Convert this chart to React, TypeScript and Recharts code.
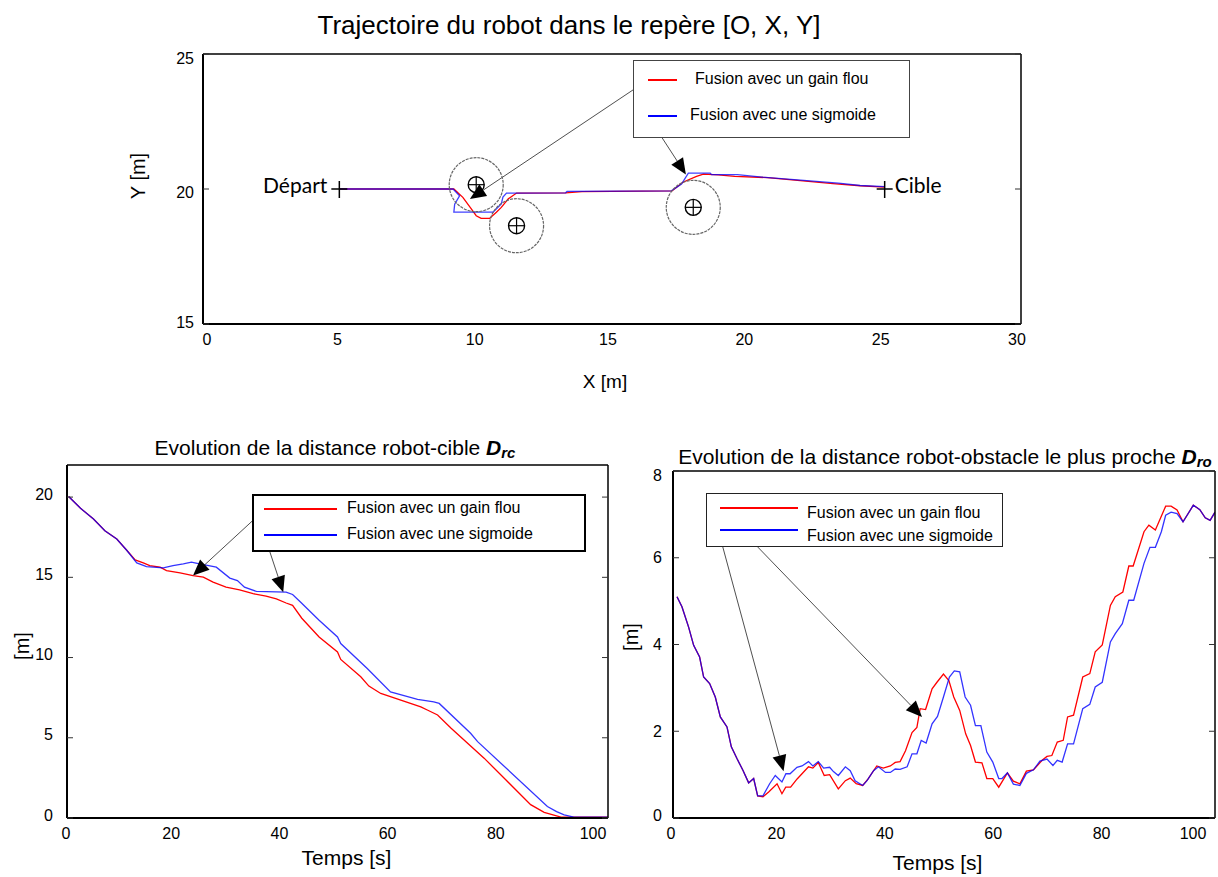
import { LineChart, Line, XAxis, YAxis, ReferenceLine, ReferenceDot, Legend } from "recharts";

type Pt = { x: number; y: number };
type TPt = { t: number; d: number };

const RED = "#ff0000";
const BLUE = "#0000ff";
const seriesNames = ["Fusion avec un gain flou", "Fusion avec une sigmoide"];

// --- trajectoire dans le repère [O, X, Y]
const trajXTicks = [0, 5, 10, 15, 20, 25, 30];
const trajYTicks = [15, 20, 25];
const trajRed: Pt[] = [
  { x: 5, y: 20 }, { x: 9.2, y: 20 }, { x: 9.53, y: 19.69 }, { x: 9.84, y: 19.26 },
  { x: 10.02, y: 19.01 }, { x: 10.2, y: 18.91 }, { x: 10.51, y: 18.91 }, { x: 10.76, y: 19.14 },
  { x: 10.94, y: 19.32 }, { x: 11.19, y: 19.63 }, { x: 11.5, y: 19.85 }, { x: 13.3, y: 19.86 },
  { x: 13.9, y: 19.9 }, { x: 17.2, y: 19.93 }, { x: 17.6, y: 20.25 }, { x: 18.1, y: 20.47 },
  { x: 18.35, y: 20.55 }, { x: 18.9, y: 20.52 }, { x: 19.5, y: 20.47 }, { x: 20.7, y: 20.42 },
  { x: 21.9, y: 20.31 }, { x: 23.1, y: 20.2 }, { x: 24.1, y: 20.12 }, { x: 25, y: 20.07 },
];
const trajBlue: Pt[] = [
  { x: 5, y: 20 }, { x: 9.17, y: 20 }, { x: 9.41, y: 19.75 }, { x: 9.23, y: 19.44 },
  { x: 9.2, y: 19.14 }, { x: 10.64, y: 19.14 }, { x: 10.94, y: 19.45 }, { x: 11.0, y: 19.7 },
  { x: 11.13, y: 19.85 }, { x: 13.3, y: 19.86 }, { x: 13.35, y: 19.91 }, { x: 17.18, y: 19.93 },
  { x: 17.55, y: 20.18 }, { x: 17.8, y: 20.59 }, { x: 18.6, y: 20.59 }, { x: 18.65, y: 20.53 },
  { x: 19.6, y: 20.53 }, { x: 20.5, y: 20.44 }, { x: 21.8, y: 20.34 }, { x: 23.3, y: 20.22 },
  { x: 24.1, y: 20.13 }, { x: 25, y: 20.09 },
];
const obstacles: Pt[] = [
  { x: 10.02, y: 20.16 },
  { x: 11.5, y: 18.64 },
  { x: 17.98, y: 19.32 },
];
const depart: Pt = { x: 5, y: 20 };
const cible: Pt = { x: 25, y: 20 };
const trajArrows = [
  { from: { x: 16.32, y: 24.04 }, to: { x: 9.79, y: 19.63 } },
  { from: { x: 16.32, y: 22.7 }, to: { x: 17.71, y: 20.54 } },
];

// --- distance robot-cible
const timeTicks = [0, 20, 40, 60, 80, 100];
const drcYTicks = [0, 5, 10, 15, 20];
const drcRed: TPt[] = [
  { t: 0.3, d: 20.04 }, { t: 2.5, d: 19.3 }, { t: 4.9, d: 18.63 }, { t: 7, d: 17.9 },
  { t: 9.2, d: 17.39 }, { t: 11, d: 16.7 }, { t: 12.6, d: 16.09 }, { t: 14.1, d: 15.9 },
  { t: 15.3, d: 15.73 }, { t: 17.2, d: 15.63 }, { t: 18.4, d: 15.42 }, { t: 20.9, d: 15.28 },
  { t: 23.3, d: 15.11 }, { t: 25.2, d: 15.01 }, { t: 27, d: 14.7 }, { t: 29.4, d: 14.39 },
  { t: 31.9, d: 14.22 }, { t: 34.4, d: 13.98 }, { t: 36.8, d: 13.83 }, { t: 38.7, d: 13.66 },
  { t: 40.5, d: 13.4 }, { t: 41.7, d: 13.25 }, { t: 43.4, d: 12.45 }, { t: 46.6, d: 11.28 },
  { t: 50, d: 10.35 }, { t: 50.6, d: 9.88 }, { t: 54.3, d: 8.8 }, { t: 55.8, d: 8.22 },
  { t: 58, d: 7.76 }, { t: 65.4, d: 6.93 }, { t: 66.6, d: 6.73 }, { t: 68.5, d: 6.42 },
  { t: 71, d: 5.59 }, { t: 77.1, d: 3.73 }, { t: 85.7, d: 0.83 }, { t: 88.2, d: 0.35 },
  { t: 91.3, d: 0.06 }, { t: 100, d: 0.06 },
];
const drcBlue: TPt[] = [
  { t: 0.3, d: 20.04 }, { t: 2.5, d: 19.3 }, { t: 4.9, d: 18.63 }, { t: 7, d: 17.9 },
  { t: 9.2, d: 17.39 }, { t: 11, d: 16.7 }, { t: 12.9, d: 15.9 }, { t: 14.7, d: 15.67 },
  { t: 17.8, d: 15.59 }, { t: 19.6, d: 15.73 }, { t: 21.5, d: 15.84 }, { t: 23, d: 15.94 },
  { t: 24.5, d: 15.84 }, { t: 27.6, d: 15.63 }, { t: 30.1, d: 14.95 }, { t: 31.5, d: 14.8 },
  { t: 32.8, d: 14.39 }, { t: 35, d: 14.12 }, { t: 40.5, d: 14.08 }, { t: 41.7, d: 13.93 },
  { t: 43.2, d: 13.45 }, { t: 46.6, d: 12.32 }, { t: 50, d: 11.28 }, { t: 50.6, d: 10.87 },
  { t: 55.5, d: 9.32 }, { t: 59.8, d: 7.86 }, { t: 64.8, d: 7.39 }, { t: 67.8, d: 7.24 },
  { t: 68.8, d: 7.14 }, { t: 74.6, d: 5.28 }, { t: 75.9, d: 4.76 }, { t: 88.8, d: 0.72 },
  { t: 90.5, d: 0.4 }, { t: 91.9, d: 0.2 }, { t: 93.7, d: 0.06 }, { t: 100, d: 0.06 },
];
const drcArrows = [
  { from: { x: 36.5, y: 19.21 }, to: { x: 23.3, y: 15.11 } },
  { from: { x: 36.5, y: 17.6 }, to: { x: 39.97, y: 14.07 } },
];

// --- distance robot-obstacle le plus proche
const droYTicks = [0, 2, 4, 6, 8];
const droStart: TPt[] = [
  { t: 0.74, d: 5.1 }, { t: 1.65, d: 4.87 }, { t: 2.88, d: 4.4 }, { t: 3.81, d: 3.98 },
  { t: 4.91, d: 3.71 }, { t: 5.65, d: 3.25 }, { t: 6.76, d: 3.1 }, { t: 7.8, d: 2.79 },
  { t: 8.73, d: 2.33 }, { t: 9.96, d: 2.1 }, { t: 10.76, d: 1.64 }, { t: 11.8, d: 1.37 },
  { t: 12.9, d: 1.1 }, { t: 13.96, d: 0.81 }, { t: 14.88, d: 0.91 }, { t: 15.62, d: 0.51 },
];
const droEnd: TPt[] = [
  { t: 94.1, d: 6.83 }, { t: 96, d: 7.21 }, { t: 97.2, d: 7.11 }, { t: 98.2, d: 6.92 },
  { t: 99.1, d: 6.86 }, { t: 100, d: 7.05 },
];
const droRed: TPt[] = [
  ...droStart,
  { t: 16.6, d: 0.49 }, { t: 17.65, d: 0.6 }, { t: 19.2, d: 0.79 }, { t: 20.1, d: 0.56 },
  { t: 20.8, d: 0.71 }, { t: 21.7, d: 0.71 }, { t: 22.9, d: 0.9 }, { t: 23.8, d: 1.02 },
  { t: 25, d: 1.18 }, { t: 25.8, d: 1.15 }, { t: 26.8, d: 1.28 }, { t: 27.9, d: 0.98 },
  { t: 28.9, d: 1.0 }, { t: 30.5, d: 0.67 }, { t: 31.8, d: 0.86 }, { t: 32.7, d: 0.92 },
  { t: 33.8, d: 0.79 }, { t: 35, d: 0.75 }, { t: 36, d: 0.9 }, { t: 37.6, d: 1.2 },
  { t: 38.8, d: 1.15 }, { t: 40.1, d: 1.2 }, { t: 41, d: 1.28 }, { t: 41.9, d: 1.3 },
  { t: 42.9, d: 1.55 }, { t: 44.1, d: 1.97 }, { t: 45, d: 2.09 }, { t: 45.6, d: 2.52 },
  { t: 46.6, d: 2.5 }, { t: 47.8, d: 2.98 }, { t: 48.7, d: 3.13 }, { t: 49.9, d: 3.32 },
  { t: 50.9, d: 3.17 }, { t: 51.8, d: 2.79 }, { t: 52.9, d: 2.48 }, { t: 54, d: 1.94 },
  { t: 54.9, d: 1.67 }, { t: 55.8, d: 1.29 }, { t: 57, d: 1.27 }, { t: 57.9, d: 0.91 },
  { t: 59, d: 0.91 }, { t: 60.1, d: 0.71 }, { t: 61.7, d: 1.04 }, { t: 62.8, d: 0.85 },
  { t: 64, d: 0.79 }, { t: 65.2, d: 1.08 }, { t: 66.5, d: 1.11 }, { t: 68.1, d: 1.33 },
  { t: 69, d: 1.42 }, { t: 69.9, d: 1.44 }, { t: 70.9, d: 1.75 }, { t: 72, d: 1.79 },
  { t: 72.8, d: 2.33 }, { t: 73.9, d: 2.37 }, { t: 75.6, d: 3.25 }, { t: 76.9, d: 3.33 },
  { t: 77.9, d: 3.83 }, { t: 79.2, d: 3.99 }, { t: 80.7, d: 4.9 }, { t: 81.6, d: 5.1 },
  { t: 83, d: 5.21 }, { t: 84.1, d: 5.81 }, { t: 84.9, d: 5.81 }, { t: 86.9, d: 6.6 },
  { t: 87.8, d: 6.75 }, { t: 89, d: 6.64 }, { t: 90.9, d: 7.19 }, { t: 91.9, d: 7.19 },
  { t: 93, d: 7.1 },
  ...droEnd,
];
const droBlue: TPt[] = [
  ...droStart,
  { t: 16.6, d: 0.51 }, { t: 17.83, d: 0.79 }, { t: 18.87, d: 0.98 }, { t: 20.1, d: 0.83 },
  { t: 20.83, d: 1.02 }, { t: 21.6, d: 1.02 }, { t: 22.87, d: 1.17 }, { t: 23.8, d: 1.2 },
  { t: 25, d: 1.3 }, { t: 25.8, d: 1.2 }, { t: 26.8, d: 1.3 }, { t: 27.8, d: 1.15 },
  { t: 28.9, d: 1.17 }, { t: 29.6, d: 1.07 }, { t: 30.5, d: 0.98 }, { t: 31.8, d: 1.18 },
  { t: 32.7, d: 1.09 }, { t: 33.6, d: 0.86 }, { t: 35, d: 0.75 }, { t: 35.8, d: 0.86 },
  { t: 37, d: 1.09 }, { t: 37.9, d: 1.18 }, { t: 39.2, d: 1.05 }, { t: 40.1, d: 1.05 },
  { t: 41, d: 1.13 }, { t: 41.9, d: 1.12 }, { t: 43.2, d: 1.18 }, { t: 44.1, d: 1.48 },
  { t: 45, d: 1.48 }, { t: 45.8, d: 1.79 }, { t: 46.7, d: 1.73 }, { t: 47.8, d: 2.17 },
  { t: 48.8, d: 2.34 }, { t: 49.9, d: 2.79 }, { t: 51, d: 3.25 }, { t: 51.9, d: 3.39 },
  { t: 52.9, d: 3.37 }, { t: 53.9, d: 2.79 }, { t: 54.9, d: 2.6 }, { t: 55.8, d: 2.13 },
  { t: 56.8, d: 2.13 }, { t: 57.9, d: 1.52 }, { t: 59, d: 1.29 }, { t: 60.1, d: 0.91 },
  { t: 60.7, d: 0.91 }, { t: 61.7, d: 1.04 }, { t: 62.8, d: 0.78 }, { t: 64, d: 0.75 },
  { t: 65.2, d: 1.03 }, { t: 66.5, d: 1.11 }, { t: 67.7, d: 1.31 }, { t: 69, d: 1.36 },
  { t: 70.1, d: 1.21 }, { t: 70.9, d: 1.33 }, { t: 71.8, d: 1.29 }, { t: 72.8, d: 1.71 },
  { t: 73.9, d: 1.71 }, { t: 75.6, d: 2.52 }, { t: 76.9, d: 2.62 }, { t: 77.9, d: 3.02 },
  { t: 79.2, d: 3.13 }, { t: 80.7, d: 4.06 }, { t: 81.6, d: 4.25 }, { t: 82.9, d: 4.48 },
  { t: 84.1, d: 5.02 }, { t: 85, d: 5.02 }, { t: 86.9, d: 5.87 }, { t: 88, d: 6.24 },
  { t: 89, d: 6.24 }, { t: 90.1, d: 6.6 }, { t: 90.9, d: 6.98 }, { t: 91.9, d: 7.05 },
  { t: 93, d: 7.02 },
  ...droEnd,
];
const droArrows = [
  { from: { x: 8.73, y: 7.14 }, to: { x: 45.94, y: 2.33 } },
  { from: { x: 8.36, y: 6.63 }, to: { x: 20.4, y: 1.08 } },
];

// annotation arrow: thin line ending with a filled triangle
function Arrow(props: any) {
  const { x1, y1, x2, y2 } = props;
  const dx = x2 - x1;
  const dy = y2 - y1;
  const len = Math.hypot(dx, dy) || 1;
  const ux = dx / len;
  const uy = dy / len;
  const bx = x2 - ux * 16;
  const by = y2 - uy * 16;
  const pts = `${x2},${y2} ${bx - uy * 7},${by + ux * 7} ${bx + uy * 7},${by - ux * 7}`;
  return (
    <g>
      <line x1={x1} y1={y1} x2={bx} y2={by} stroke="#222" strokeWidth={0.8} />
      <polygon points={pts} fill="#000" />
    </g>
  );
}

function Obstacle(props: any) {
  const { cx, cy } = props;
  return (
    <g>
      <circle cx={cx} cy={cy} r={27} fill="none" stroke="#666" strokeWidth={1.2} strokeDasharray="3 1" />
      <circle cx={cx} cy={cy} r={8} fill="none" stroke="#000" strokeWidth={1.4} />
      <line x1={cx - 8} y1={cy} x2={cx + 8} y2={cy} stroke="#000" strokeWidth={1.2} />
      <line x1={cx} y1={cy - 8} x2={cx} y2={cy + 8} stroke="#000" strokeWidth={1.2} />
    </g>
  );
}

function Cross(props: any) {
  const { cx, cy, text, side } = props;
  return (
    <g>
      <line x1={cx - 8} y1={cy} x2={cx + 8} y2={cy} stroke="#000" strokeWidth={1.5} />
      <line x1={cx} y1={cy - 8} x2={cx} y2={cy + 9} stroke="#000" strokeWidth={1.5} />
      <text
        x={side === "left" ? cx - 12 : cx + 10}
        y={cy + 4}
        textAnchor={side === "left" ? "end" : "start"}
        fontFamily="Lato, 'Open Sans', sans-serif"
        fontSize={21}
        fill="#000"
      >
        {text}
      </text>
    </g>
  );
}

// tick labels, nudged a little like the original figure
function XTick(props: any) {
  const { x, y, payload, shifts, shift } = props;
  const dx = shifts && shifts[payload.value] !== undefined ? shifts[payload.value] : shift || 0;
  return (
    <text x={x + dx} y={y} dy="0.71em" textAnchor="middle" fontSize={16} fill="#000">
      {payload.value}
    </text>
  );
}

function YTick(props: any) {
  const { x, y, payload, shifts, shift } = props;
  const dy = shifts && shifts[payload.value] !== undefined ? shifts[payload.value] : shift || 0;
  return (
    <text x={x} y={y + dy} dy="0.355em" textAnchor="end" fontSize={16} fill="#000">
      {payload.value}
    </text>
  );
}

const noLabel = () => <g />;

type LegendRow = { color: string; lx1: number; lx2: number; ly: number; tx: number; ty: number };

function LegendBox({ w, h, border, rows }: { w: number; h: number; border: string; rows: LegendRow[] }) {
  return (
    <div
      style={{
        position: "relative",
        width: w,
        height: h,
        boxSizing: "border-box",
        border,
        background: "#fff",
      }}
    >
      {rows.map((r, i) => (
        <div key={i}>
          <div
            style={{
              position: "absolute",
              left: r.lx1,
              top: r.ly - 0.75,
              width: r.lx2 - r.lx1,
              height: 1.5,
              background: r.color,
            }}
          />
          <div
            style={{
              position: "absolute",
              left: r.tx,
              top: r.ty - 9.5,
              fontSize: 16,
              lineHeight: 1,
              whiteSpace: "nowrap",
              color: "#000",
            }}
          >
            {seriesNames[i]}
          </div>
        </div>
      ))}
    </div>
  );
}

function Caption({ x, y, size, children, rotate }: { x: number; y: number; size: number; children: any; rotate?: boolean }) {
  return (
    <div
      style={{
        position: "absolute",
        left: x,
        top: y,
        fontSize: size,
        lineHeight: 1,
        whiteSpace: "nowrap",
        transform: rotate ? "translate(-50%, -50%) rotate(-90deg)" : "translateX(-50%)",
      }}
    >
      {children}
    </div>
  );
}

const tickStroke = { stroke: "#333", strokeWidth: 1 };

// frame of the plot: four mirrored axes drawing inward ticks
function frameAxes(xDomain: number[], xTicks: number[], yDomain: number[], yTicks: number[]) {
  return [
    <XAxis key="xb" xAxisId="xb" type="number" orientation="bottom" mirror domain={xDomain} ticks={xTicks}
      interval={0} allowDataOverflow tick={noLabel} tickSize={6} tickLine={tickStroke}
      axisLine={{ stroke: "#000", strokeWidth: 2 }} />,
    <XAxis key="xt" xAxisId="xt" type="number" orientation="top" mirror domain={xDomain} ticks={xTicks}
      interval={0} allowDataOverflow tick={noLabel} tickSize={6} tickLine={tickStroke}
      axisLine={{ stroke: "#000", strokeWidth: 1.5 }} />,
    <YAxis key="yl" yAxisId="yl" type="number" orientation="left" mirror domain={yDomain} ticks={yTicks}
      interval={0} allowDataOverflow tick={noLabel} tickSize={6} tickLine={tickStroke}
      axisLine={{ stroke: "#000", strokeWidth: 2 }} />,
    <YAxis key="yr" yAxisId="yr" type="number" orientation="right" mirror domain={yDomain} ticks={yTicks}
      interval={0} allowDataOverflow tick={noLabel} tickSize={6} tickLine={tickStroke}
      axisLine={{ stroke: "#000", strokeWidth: 1.5 }} />,
  ];
}

export default function App() {
  return (
    <div
      style={{
        position: "absolute",
        left: 0,
        top: 0,
        width: 1218,
        height: 877,
        background: "#fff",
        fontFamily: "'Liberation Sans', Arial, sans-serif",
        color: "#000",
      }}
    >
      {/* trajectoire */}
      <div style={{ position: "absolute", left: 0, top: 0 }}>
        <LineChart width={1218} height={400} margin={{ top: 54, right: 197, bottom: 46, left: 163 }}>
          <XAxis xAxisId="b" dataKey="x" type="number" domain={[0, 30]} ticks={trajXTicks} interval={0}
            allowDataOverflow height={30} tickSize={0} tickMargin={10} tickLine={false} axisLine={false}
            tick={<XTick shift={-4} shifts={{ 0: 4, 5: -2, 10: -1 }} />} />
          <YAxis yAxisId="l" type="number" domain={[15, 25]} ticks={trajYTicks} interval={0}
            allowDataOverflow width={40} tickSize={0} tickMargin={9} tickLine={false} axisLine={false}
            tick={<YTick shifts={{ 25: 4, 20: 3, 15: -2 }} />} />
          {frameAxes([0, 30], trajXTicks, [15, 25], trajYTicks)}
          <Legend
            layout="vertical"
            align="center"
            verticalAlign="middle"
            wrapperStyle={{ left: 633, top: 60, width: 277, height: 78 }}
            content={() => (
              <LegendBox w={277} h={78} border="1.5px solid #444" rows={[
                { color: RED, lx1: 14, lx2: 43, ly: 19, tx: 61, ty: 19 },
                { color: BLUE, lx1: 14, lx2: 43, ly: 55, tx: 56, ty: 55 },
              ]} />
            )}
          />
          {obstacles.map((o, i) => (
            <ReferenceDot key={i} xAxisId="b" yAxisId="l" x={o.x} y={o.y} r={27} shape={<Obstacle />} />
          ))}
          <Line xAxisId="b" yAxisId="l" data={trajRed} dataKey="y" name={seriesNames[0]} type="linear"
            stroke={RED} strokeWidth={1.3} dot={false} isAnimationActive={false} />
          <Line xAxisId="b" yAxisId="l" data={trajBlue} dataKey="y" name={seriesNames[1]} type="linear"
            stroke={BLUE} strokeOpacity={0.75} strokeWidth={1.3} dot={false} isAnimationActive={false} />
          <ReferenceDot xAxisId="b" yAxisId="l" x={depart.x} y={depart.y} r={8}
            shape={<Cross text="Départ" side="left" />} />
          <ReferenceDot xAxisId="b" yAxisId="l" x={cible.x} y={cible.y} r={8}
            shape={<Cross text="Cible" side="right" />} />
          {trajArrows.map((a, i) => (
            <ReferenceLine key={i} xAxisId="b" yAxisId="l" segment={[a.from, a.to]} shape={Arrow} />
          ))}
        </LineChart>
      </div>

      {/* distance robot-cible */}
      <div style={{ position: "absolute", left: 0, top: 420 }}>
        <LineChart width={620} height={457} margin={{ top: 45, right: 12, bottom: 29, left: 27 }}>
          <XAxis xAxisId="b" dataKey="t" type="number" domain={[0, 100]} ticks={timeTicks} interval={0}
            allowDataOverflow height={30} tickSize={0} tickMargin={10} tickLine={false} axisLine={false}
            tick={<XTick shift={-4} shifts={{ 0: -1, 100: -15 }} />} />
          <YAxis yAxisId="l" type="number" domain={[0, 22]} ticks={drcYTicks} interval={0}
            allowDataOverflow width={40} tickSize={0} tickMargin={14} tickLine={false} axisLine={false}
            tick={<YTick shift={-3} />} />
          {frameAxes([0, 100], timeTicks, [0, 22], drcYTicks)}
          <Legend
            layout="vertical"
            align="center"
            verticalAlign="middle"
            wrapperStyle={{ left: 252, top: 74, width: 334, height: 58 }}
            content={() => (
              <LegendBox w={334} h={58} border="2px solid #000" rows={[
                { color: RED, lx1: 10, lx2: 83, ly: 13, tx: 93, ty: 13 },
                { color: BLUE, lx1: 10, lx2: 83, ly: 39, tx: 93, ty: 39 },
              ]} />
            )}
          />
          <Line xAxisId="b" yAxisId="l" data={drcRed} dataKey="d" name={seriesNames[0]} type="linear"
            stroke={RED} strokeWidth={1.3} dot={false} isAnimationActive={false} />
          <Line xAxisId="b" yAxisId="l" data={drcBlue} dataKey="d" name={seriesNames[1]} type="linear"
            stroke={BLUE} strokeOpacity={0.8} strokeWidth={1.3} dot={false} isAnimationActive={false} />
          {drcArrows.map((a, i) => (
            <ReferenceLine key={i} xAxisId="b" yAxisId="l" segment={[a.from, a.to]} shape={Arrow} />
          ))}
        </LineChart>
      </div>

      {/* distance robot-obstacle le plus proche */}
      <div style={{ position: "absolute", left: 620, top: 420 }}>
        <LineChart width={598} height={457} margin={{ top: 51, right: 3, bottom: 29, left: 13 }}>
          <XAxis xAxisId="b" dataKey="t" type="number" domain={[0, 100]} ticks={timeTicks} interval={0}
            allowDataOverflow height={30} tickSize={0} tickMargin={10} tickLine={false} axisLine={false}
            tick={<XTick shift={-5} shifts={{ 0: -2, 100: -22 }} />} />
          <YAxis yAxisId="l" type="number" domain={[0, 8]} ticks={droYTicks} interval={0}
            allowDataOverflow width={40} tickSize={0} tickMargin={11} tickLine={false} axisLine={false}
            tick={<YTick shifts={{ 8: 4, 0: -3 }} />} />
          {frameAxes([0, 100], timeTicks, [0, 8], droYTicks)}
          <Legend
            layout="vertical"
            align="center"
            verticalAlign="middle"
            wrapperStyle={{ left: 86, top: 73, width: 297, height: 54 }}
            content={() => (
              <LegendBox w={297} h={54} border="1.5px solid #222" rows={[
                { color: RED, lx1: 13, lx2: 91, ly: 14, tx: 100, ty: 20 },
                { color: BLUE, lx1: 13, lx2: 91, ly: 36, tx: 100, ty: 43 },
              ]} />
            )}
          />
          <Line xAxisId="b" yAxisId="l" data={droRed} dataKey="d" name={seriesNames[0]} type="linear"
            stroke={RED} strokeWidth={1.3} dot={false} isAnimationActive={false} />
          <Line xAxisId="b" yAxisId="l" data={droBlue} dataKey="d" name={seriesNames[1]} type="linear"
            stroke={BLUE} strokeOpacity={0.8} strokeWidth={1.3} dot={false} isAnimationActive={false} />
          {droArrows.map((a, i) => (
            <ReferenceLine key={i} xAxisId="b" yAxisId="l" segment={[a.from, a.to]} shape={Arrow} />
          ))}
        </LineChart>
      </div>

      {/* titles and axis labels */}
      <Caption x={569} y={11.6} size={26}>Trajectoire du robot dans le repère [O, X, Y]</Caption>
      <Caption x={605} y={371.5} size={19}>X [m]</Caption>
      <Caption x={137.5} y={176} size={20} rotate>Y [m]</Caption>

      <Caption x={335} y={437.3} size={21}>
        Evolution de la distance robot-cible{" "}
        <span style={{ fontWeight: 700, fontStyle: "italic" }}>D</span>
        <span style={{ fontWeight: 700, fontStyle: "italic", fontSize: 15, position: "relative", top: 3 }}>rc</span>
      </Caption>
      <Caption x={22} y={646} size={20} rotate>[m]</Caption>
      <Caption x={346.5} y={847.3} size={21}>Temps [s]</Caption>

      <Caption x={945} y={445.6} size={21}>
        Evolution de la distance robot-obstacle le plus proche{" "}
        <span style={{ fontWeight: 700, fontStyle: "italic" }}>D</span>
        <span style={{ fontWeight: 700, fontStyle: "italic", fontSize: 15, position: "relative", top: 3 }}>ro</span>
      </Caption>
      <Caption x={631} y={637} size={20} rotate>[m]</Caption>
      <Caption x={937.5} y={852.3} size={21}>Temps [s]</Caption>
    </div>
  );
}
